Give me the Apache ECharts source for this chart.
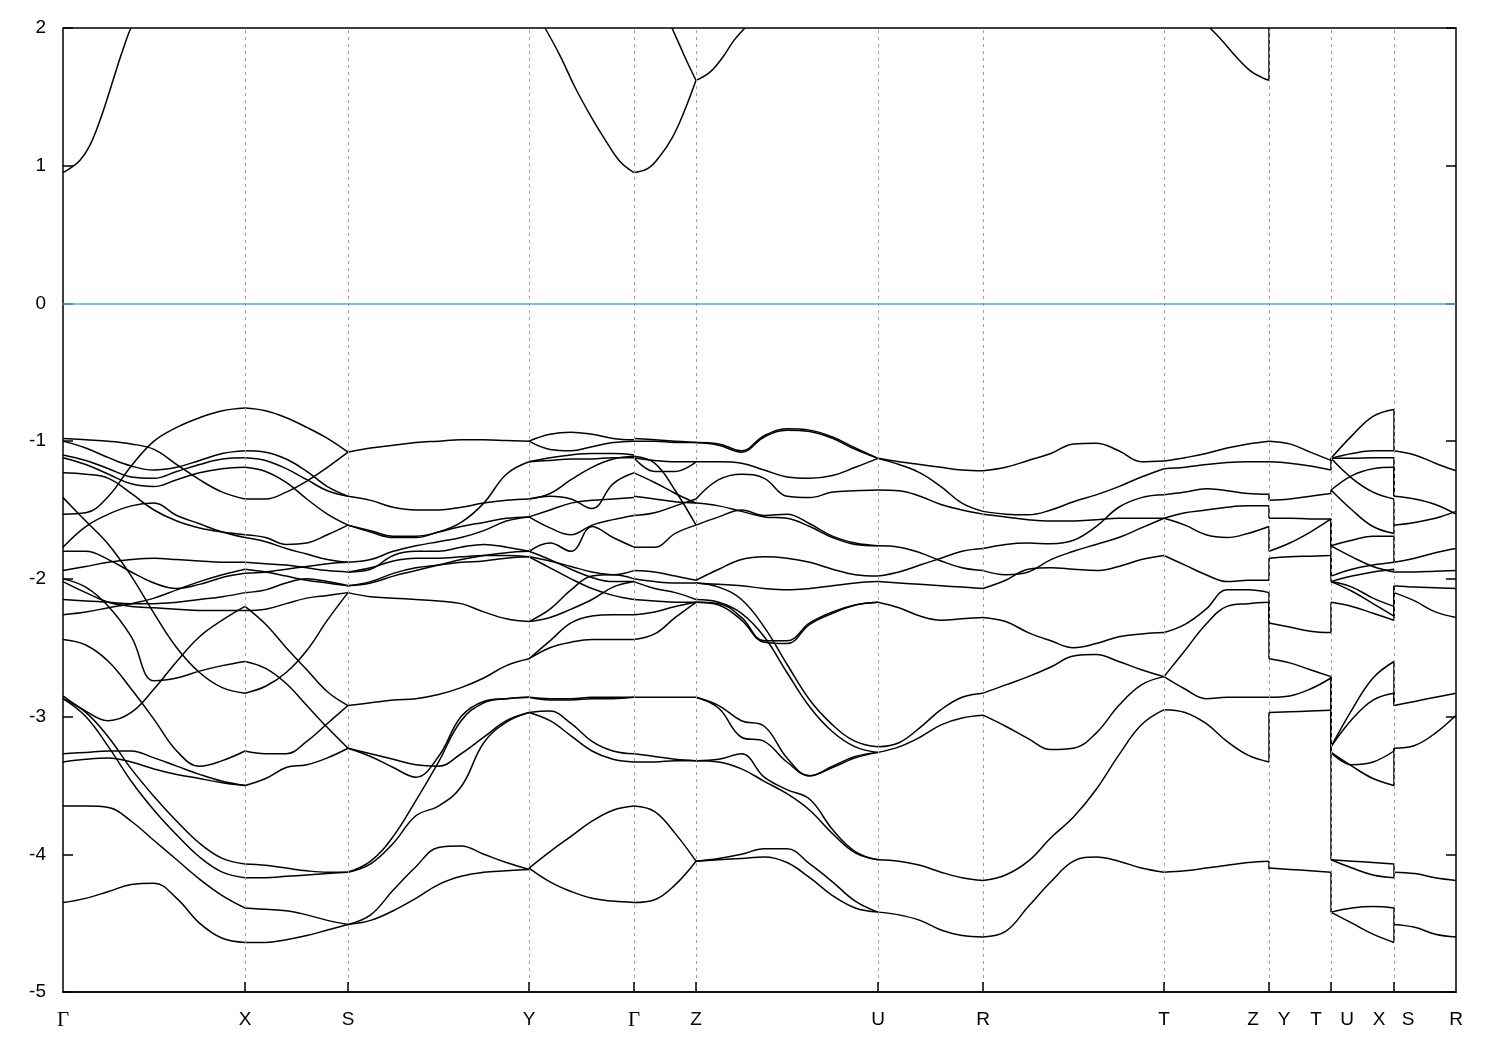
<!DOCTYPE html>
<html><head><meta charset="utf-8">
<script src="https://cdn.jsdelivr.net/npm/echarts@6/dist/echarts.min.js"></script>
<style>html,body{margin:0;padding:0;background:#fff}#chart{width:1500px;height:1050px}</style>
</head><body><div id="chart"></div>
<script>
// path distance of the high-symmetry points (arbitrary k units)
const kPoints = [0, 182, 285, 466, 571, 633, 815, 920, 1101, 1206, 1268, 1331, 1393];
// tick label texts and where they sit along the path
const tickNames = ['Γ','X','S','Y','Γ','Z','U','R','T','Z','Y','T','U','X','S','R'];
const tickLabelK = [0, 182, 285, 466, 571, 633, 815, 920, 1101, 1190, 1221, 1253, 1284, 1316, 1345, 1393];

// Valence bands, energies (eV) sampled evenly along each path segment
const segGX = [
 [-1.53,-1.52,-1.40,-1.18,-1.00,-0.90,-0.83,-0.78,-0.76],
 [-0.98,-0.99,-1.00,-1.02,-1.06,-1.17,-1.28,-1.37,-1.42],
 [-1.00,-1.05,-1.12,-1.18,-1.21,-1.19,-1.14,-1.09,-1.07],
 [-1.10,-1.14,-1.20,-1.26,-1.27,-1.22,-1.17,-1.13,-1.12],
 [-1.12,-1.17,-1.24,-1.31,-1.33,-1.28,-1.23,-1.20,-1.19],
 [-1.23,-1.24,-1.27,-1.38,-1.50,-1.58,-1.63,-1.66,-1.68],
 [-1.41,-1.58,-1.75,-1.98,-2.25,-2.50,-2.68,-2.79,-2.83],
 [-1.77,-1.62,-1.53,-1.47,-1.45,-1.54,-1.60,-1.66,-1.70],
 [-1.80,-1.80,-1.86,-1.95,-2.03,-2.07,-2.04,-1.99,-1.96],
 [-1.94,-1.91,-1.88,-1.86,-1.85,-1.86,-1.87,-1.88,-1.88],
 [-2.00,-2.06,-2.20,-2.42,-2.74,-2.72,-2.67,-2.63,-2.60],
 [-2.02,-2.10,-2.17,-2.20,-2.21,-2.22,-2.23,-2.23,-2.23],
 [-2.15,-2.16,-2.17,-2.18,-2.18,-2.17,-2.15,-2.13,-2.10],
 [-2.26,-2.24,-2.21,-2.18,-2.14,-2.08,-2.02,-1.97,-1.93],
 [-2.44,-2.48,-2.60,-2.80,-3.02,-3.25,-3.36,-3.32,-3.25],
 [-2.85,-2.96,-3.03,-2.97,-2.80,-2.60,-2.42,-2.30,-2.20],
 [-2.87,-2.97,-3.15,-3.38,-3.58,-3.76,-3.92,-4.03,-4.07],
 [-2.87,-3.00,-3.22,-3.47,-3.68,-3.86,-4.02,-4.13,-4.17],
 [-3.27,-3.26,-3.25,-3.25,-3.30,-3.36,-3.42,-3.47,-3.50],
 [-3.33,-3.31,-3.30,-3.33,-3.38,-3.42,-3.45,-3.48,-3.50],
 [-3.65,-3.65,-3.66,-3.76,-3.90,-4.04,-4.18,-4.30,-4.39],
 [-4.35,-4.32,-4.27,-4.22,-4.21,-4.32,-4.50,-4.61,-4.64]
];
const segXS = [
 [-0.76,-0.78,-0.83,-0.90,-0.98,-1.08],
 [-1.42,-1.42,-1.37,-1.29,-1.19,-1.08],
 [-1.07,-1.08,-1.13,-1.22,-1.33,-1.40],
 [-1.12,-1.14,-1.20,-1.28,-1.36,-1.40],
 [-1.19,-1.22,-1.30,-1.42,-1.53,-1.61],
 [-1.68,-1.70,-1.75,-1.74,-1.68,-1.61],
 [-1.70,-1.73,-1.78,-1.82,-1.86,-1.88],
 [-1.96,-1.95,-1.93,-1.91,-1.89,-1.88],
 [-1.88,-1.89,-1.90,-1.92,-1.94,-1.95],
 [-2.10,-2.08,-2.03,-2.00,-2.02,-2.05],
 [-1.93,-1.95,-1.98,-2.01,-2.03,-2.05],
 [-2.23,-2.22,-2.18,-2.14,-2.12,-2.10],
 [-2.20,-2.33,-2.50,-2.66,-2.82,-2.92],
 [-2.83,-2.78,-2.68,-2.52,-2.30,-2.10],
 [-2.60,-2.65,-2.76,-2.92,-3.08,-3.23],
 [-3.25,-3.27,-3.27,-3.18,-3.05,-2.92],
 [-3.50,-3.45,-3.37,-3.35,-3.30,-3.23],
 [-4.07,-4.08,-4.10,-4.12,-4.13,-4.13],
 [-4.17,-4.17,-4.16,-4.15,-4.14,-4.13],
 [-4.39,-4.40,-4.41,-4.44,-4.48,-4.51],
 [-4.64,-4.64,-4.62,-4.59,-4.55,-4.51]
];
const segSY = [
 [-1.08,-1.05,-1.03,-1.01,-1.00,-0.99,-0.99,-0.995,-1.00],
 [-1.40,-1.43,-1.48,-1.50,-1.50,-1.48,-1.45,-1.43,-1.42],
 [-1.61,-1.65,-1.69,-1.69,-1.66,-1.59,-1.45,-1.24,-1.15],
 [-1.61,-1.66,-1.70,-1.70,-1.66,-1.62,-1.59,-1.56,-1.55],
 [-1.88,-1.86,-1.80,-1.76,-1.73,-1.70,-1.65,-1.58,-1.55],
 [-1.95,-1.93,-1.83,-1.80,-1.80,-1.77,-1.75,-1.77,-1.80],
 [-1.95,-1.92,-1.87,-1.85,-1.85,-1.84,-1.83,-1.83,-1.84],
 [-2.05,-2.02,-1.96,-1.92,-1.90,-1.88,-1.87,-1.85,-1.84],
 [-2.05,-2.03,-1.98,-1.94,-1.90,-1.86,-1.83,-1.81,-1.80],
 [-2.10,-2.13,-2.14,-2.15,-2.16,-2.18,-2.24,-2.29,-2.31],
 [-2.92,-2.90,-2.88,-2.87,-2.84,-2.79,-2.72,-2.63,-2.58],
 [-3.23,-3.29,-3.37,-3.44,-3.29,-3.00,-2.89,-2.87,-2.86],
 [-3.23,-3.27,-3.31,-3.35,-3.36,-3.27,-3.15,-3.03,-2.97],
 [-4.13,-4.05,-3.87,-3.61,-3.33,-3.03,-2.90,-2.87,-2.86],
 [-4.13,-4.07,-3.92,-3.72,-3.65,-3.51,-3.19,-3.04,-2.97],
 [-4.51,-4.48,-4.41,-4.32,-4.22,-4.16,-4.13,-4.12,-4.11],
 [-4.51,-4.44,-4.26,-4.09,-3.95,-3.94,-4.00,-4.06,-4.11]
];
const segYG = [
 [-1.00,-0.95,-0.935,-0.95,-0.98,-0.99],
 [-1.00,-1.06,-1.07,-1.04,-1.01,-1.00],
 [-1.15,-1.12,-1.10,-1.09,-1.09,-1.10],
 [-1.15,-1.14,-1.13,-1.13,-1.12,-1.12],
 [-1.42,-1.40,-1.42,-1.49,-1.31,-1.23],
 [-1.42,-1.38,-1.28,-1.19,-1.13,-1.11],
 [-1.55,-1.63,-1.68,-1.61,-1.57,-1.54],
 [-1.55,-1.50,-1.45,-1.43,-1.42,-1.41],
 [-1.80,-1.74,-1.80,-1.62,-1.70,-1.77],
 [-1.84,-1.87,-1.91,-1.95,-1.97,-1.94],
 [-1.80,-1.86,-1.93,-1.99,-2.02,-2.02],
 [-1.84,-1.92,-2.00,-2.07,-2.12,-2.15],
 [-2.31,-2.22,-2.08,-1.98,-1.97,-2.00],
 [-2.31,-2.28,-2.22,-2.15,-2.06,-2.02],
 [-2.58,-2.50,-2.46,-2.44,-2.44,-2.44],
 [-2.58,-2.45,-2.32,-2.27,-2.26,-2.26],
 [-2.86,-2.87,-2.87,-2.86,-2.86,-2.86],
 [-2.86,-2.88,-2.88,-2.87,-2.87,-2.86],
 [-2.97,-2.96,-3.05,-3.18,-3.25,-3.27],
 [-2.97,-3.03,-3.14,-3.25,-3.31,-3.33],
 [-4.10,-3.98,-3.87,-3.76,-3.68,-3.65],
 [-4.10,-4.20,-4.27,-4.32,-4.34,-4.35]
];
const segGZ = [
 [-0.98,-0.99,-1.00,-1.01],
 [-1.00,-1.00,-1.01,-1.01],
 [-1.11,-1.16,-1.36,-1.61],
 [-1.12,-1.14,-1.15,-1.15],
 [-1.12,-1.22,-1.22,-1.15],
 [-1.23,-1.30,-1.38,-1.45],
 [-1.40,-1.42,-1.44,-1.45],
 [-1.54,-1.52,-1.47,-1.42],
 [-1.77,-1.77,-1.67,-1.61],
 [-1.94,-1.95,-1.98,-2.01],
 [-2.00,-2.02,-2.03,-2.03],
 [-2.02,-2.07,-2.10,-2.15],
 [-2.15,-2.16,-2.17,-2.17],
 [-2.26,-2.24,-2.20,-2.17],
 [-2.44,-2.40,-2.28,-2.17],
 [-2.86,-2.86,-2.86,-2.86],
 [-3.27,-3.29,-3.31,-3.32],
 [-3.33,-3.33,-3.32,-3.32],
 [-3.65,-3.69,-3.85,-4.05],
 [-4.35,-4.33,-4.22,-4.05]
];
const segZU = [
 [-1.01,-1.02,-1.07,-0.96,-0.91,-0.92,-0.97,-1.05,-1.125],
 [-1.01,-1.03,-1.08,-0.97,-0.92,-0.93,-0.98,-1.06,-1.125],
 [-1.15,-1.15,-1.16,-1.21,-1.26,-1.27,-1.25,-1.19,-1.125],
 [-1.42,-1.28,-1.24,-1.27,-1.40,-1.41,-1.37,-1.36,-1.355],
 [-1.61,-1.55,-1.50,-1.54,-1.53,-1.60,-1.69,-1.74,-1.76],
 [-1.45,-1.47,-1.51,-1.55,-1.56,-1.62,-1.70,-1.75,-1.76],
 [-2.01,-1.93,-1.86,-1.84,-1.85,-1.88,-1.93,-1.97,-1.98],
 [-2.03,-2.04,-2.05,-2.07,-2.08,-2.07,-2.05,-2.03,-2.02],
 [-2.17,-2.18,-2.28,-2.45,-2.45,-2.32,-2.24,-2.19,-2.17],
 [-2.17,-2.19,-2.30,-2.46,-2.47,-2.33,-2.25,-2.19,-2.17],
 [-2.03,-2.06,-2.15,-2.35,-2.62,-2.88,-3.06,-3.18,-3.22],
 [-2.15,-2.17,-2.25,-2.42,-2.68,-2.93,-3.11,-3.22,-3.26],
 [-2.86,-2.92,-3.03,-3.07,-3.30,-3.43,-3.37,-3.30,-3.26],
 [-2.86,-2.94,-3.15,-3.18,-3.33,-3.43,-3.36,-3.29,-3.26],
 [-3.32,-3.31,-3.27,-3.44,-3.53,-3.60,-3.82,-3.98,-4.04],
 [-3.32,-3.33,-3.38,-3.47,-3.56,-3.68,-3.85,-3.99,-4.04],
 [-4.05,-4.03,-4.00,-3.96,-3.96,-4.07,-4.20,-4.34,-4.42],
 [-4.05,-4.04,-4.03,-4.02,-4.06,-4.17,-4.30,-4.39,-4.42]
];
const segUR = [
 [-1.125,-1.15,-1.17,-1.19,-1.21,-1.215],
 [-1.125,-1.17,-1.23,-1.33,-1.45,-1.51],
 [-1.355,-1.36,-1.40,-1.46,-1.50,-1.53],
 [-1.76,-1.77,-1.81,-1.87,-1.92,-1.94],
 [-1.98,-1.95,-1.90,-1.85,-1.80,-1.78],
 [-2.02,-2.03,-2.04,-2.05,-2.06,-2.07],
 [-2.17,-2.21,-2.27,-2.30,-2.29,-2.28],
 [-3.22,-3.19,-3.08,-2.95,-2.86,-2.83],
 [-3.26,-3.22,-3.15,-3.06,-3.01,-2.99],
 [-4.04,-4.05,-4.08,-4.13,-4.17,-4.19],
 [-4.42,-4.44,-4.48,-4.55,-4.59,-4.60]
];
const segRT = [
 [-1.215,-1.19,-1.14,-1.09,-1.02,-1.015,-1.07,-1.15,-1.145],
 [-1.51,-1.53,-1.535,-1.50,-1.44,-1.39,-1.33,-1.26,-1.20],
 [-1.53,-1.55,-1.57,-1.58,-1.58,-1.57,-1.56,-1.56,-1.56],
 [-1.78,-1.75,-1.74,-1.745,-1.72,-1.62,-1.48,-1.41,-1.39],
 [-1.94,-1.97,-1.95,-1.86,-1.80,-1.75,-1.70,-1.63,-1.56],
 [-2.07,-2.01,-1.93,-1.92,-1.93,-1.94,-1.91,-1.86,-1.83],
 [-2.28,-2.31,-2.39,-2.45,-2.50,-2.47,-2.42,-2.40,-2.39],
 [-2.83,-2.77,-2.71,-2.64,-2.56,-2.55,-2.60,-2.66,-2.71],
 [-2.99,-3.07,-3.16,-3.24,-3.23,-3.12,-2.92,-2.77,-2.71],
 [-4.19,-4.15,-4.05,-3.88,-3.73,-3.53,-3.28,-3.06,-2.95],
 [-4.60,-4.56,-4.38,-4.20,-4.05,-4.02,-4.05,-4.10,-4.13]
];
const segTZ = [
 [-1.145,-1.12,-1.09,-1.05,-1.02,-1.00],
 [-1.20,-1.19,-1.17,-1.155,-1.15,-1.15],
 [-1.39,-1.37,-1.345,-1.36,-1.38,-1.385],
 [-1.56,-1.61,-1.68,-1.70,-1.67,-1.62],
 [-1.56,-1.52,-1.50,-1.48,-1.47,-1.47],
 [-1.83,-1.90,-1.97,-2.02,-2.01,-2.01],
 [-2.39,-2.33,-2.22,-2.08,-2.08,-2.10],
 [-2.71,-2.52,-2.33,-2.20,-2.18,-2.17],
 [-2.71,-2.80,-2.87,-2.86,-2.86,-2.86],
 [-2.95,-2.97,-3.05,-3.18,-3.28,-3.33],
 [-4.13,-4.12,-4.10,-4.08,-4.06,-4.05]
];
const segYT = [
 [-1.00,-1.02,-1.08,-1.14],
 [-1.15,-1.16,-1.18,-1.21],
 [-1.43,-1.42,-1.40,-1.38],
 [-1.56,-1.56,-1.565,-1.565],
 [-1.80,-1.74,-1.66,-1.565],
 [-1.85,-1.84,-1.835,-1.83],
 [-2.32,-2.35,-2.38,-2.39],
 [-2.58,-2.61,-2.66,-2.71],
 [-2.86,-2.85,-2.80,-2.72],
 [-2.97,-2.965,-2.96,-2.955],
 [-4.10,-4.11,-4.12,-4.13]
];
const segUX = [
 [-1.125,-0.96,-0.82,-0.77],
 [-1.125,-1.09,-1.07,-1.07],
 [-1.125,-1.125,-1.12,-1.12],
 [-1.125,-1.27,-1.37,-1.42],
 [-1.355,-1.25,-1.20,-1.19],
 [-1.355,-1.50,-1.62,-1.67],
 [-1.76,-1.72,-1.69,-1.69],
 [-1.76,-1.84,-1.91,-1.95],
 [-1.98,-1.93,-1.90,-1.88],
 [-2.02,-1.98,-1.95,-1.93],
 [-2.02,-2.06,-2.14,-2.20],
 [-2.02,-2.09,-2.18,-2.27],
 [-2.17,-2.20,-2.25,-2.30],
 [-3.22,-2.95,-2.72,-2.60],
 [-3.22,-3.02,-2.88,-2.83],
 [-3.26,-3.35,-3.33,-3.25],
 [-3.26,-3.36,-3.45,-3.50],
 [-4.04,-4.05,-4.06,-4.07],
 [-4.04,-4.10,-4.15,-4.17],
 [-4.42,-4.39,-4.38,-4.39],
 [-4.42,-4.50,-4.58,-4.64]
];
const segSR = [
 [-1.07,-1.10,-1.16,-1.215],
 [-1.40,-1.42,-1.46,-1.53],
 [-1.61,-1.59,-1.56,-1.51],
 [-1.88,-1.85,-1.81,-1.78],
 [-1.95,-1.95,-1.945,-1.94],
 [-2.05,-2.06,-2.065,-2.07],
 [-2.10,-2.16,-2.24,-2.28],
 [-2.92,-2.89,-2.86,-2.83],
 [-3.23,-3.21,-3.12,-2.99],
 [-4.13,-4.14,-4.17,-4.19],
 [-4.51,-4.53,-4.58,-4.60]
];

// Conduction band pieces: [k, E]
const cbGX = [[0,0.95],[7,0.98],[17,1.04],[27,1.15],[37,1.33],[47,1.55],[57,1.78],[65,1.95],[68,2.0]];
const cbYG = [[482,2.0],[497,1.80],[512,1.57],[527,1.37],[542,1.19],[557,1.03],[571,0.95]];
const cbGZ = [[571,0.95],[585,0.98],[597,1.07],[609,1.20],[621,1.39],[633,1.62]];
const cbGZ2 = [[609,2.0],[617,1.87],[625,1.74],[633,1.62]];
const cbZU = [[633,1.62],[647,1.68],[659,1.78],[671,1.91],[682,2.0]];
const cbTZ = [[1147,2.0],[1159,1.91],[1172,1.80],[1187,1.69],[1199,1.64],[1206,1.62]];

// Vertical jumps at the path discontinuities: [E before, E after]
const jumpZY = [[-1.385,-1.43],[-1.47,-1.56],[-1.62,-1.80],[-2.01,-1.85],[-2.10,-2.32],[-2.17,-2.58],[-3.33,-2.97],[-4.05,-4.11],[1.62,2.0]];
const jumpTU = [[-1.14,-1.125],[-1.21,-1.125],[-1.38,-1.355],[-1.565,-1.76],[-1.565,-1.98],[-1.83,-2.02],[-2.39,-2.17],[-2.71,-3.22],[-2.71,-3.26],[-2.955,-4.04],[-4.13,-4.42]];
const jumpXS = [[-0.77,-1.07],[-1.07,-1.07],[-1.12,-1.40],[-1.19,-1.40],[-1.42,-1.61],[-1.67,-1.61],[-1.69,-1.88],[-1.88,-1.88],[-1.93,-1.95],[-1.95,-1.95],[-2.20,-2.05],[-2.27,-2.05],[-2.30,-2.10],[-2.60,-2.92],[-2.83,-2.92],[-3.25,-3.23],[-3.50,-3.23],[-4.07,-4.13],[-4.17,-4.13],[-4.39,-4.51],[-4.64,-4.51]];

const segments = [
  {a:0,b:1,curves:segGX},{a:1,b:2,curves:segXS},{a:2,b:3,curves:segSY},{a:3,b:4,curves:segYG},
  {a:4,b:5,curves:segGZ},{a:5,b:6,curves:segZU},{a:6,b:7,curves:segUR},{a:7,b:8,curves:segRT},
  {a:8,b:9,curves:segTZ},{a:9,b:10,curves:segYT},{a:10,b:11,curves:segUX},{a:11,b:12,curves:segSR}
];
const jumps = [{k:kPoints[9],pairs:jumpZY},{k:kPoints[10],pairs:jumpTU},{k:kPoints[11],pairs:jumpXS}];

const yMin = -5, yMax = 2;
const tickLenE = (yMax - yMin) * 10 / 964; // 10 px inward tick, in axis units

const bandLine = {color:'#000', width:1.5};
const series = [];
function addLine(data, smooth, z){
  series.push({type:'line', data:data, smooth:smooth, symbol:'none', showSymbol:false,
    lineStyle:bandLine, itemStyle:{color:'#000'}, silent:true, z:z||3});
}
// guides: dashed verticals and zero line
series.push({type:'line', data:[], silent:true, symbol:'none',
  markLine:{silent:true, symbol:'none', label:{show:false}, animation:false,
    data: kPoints.slice(1,-1).map(k=>({xAxis:k, lineStyle:{type:[3,4], color:'#a0a0a0', width:1}}))
      .concat([{yAxis:0, lineStyle:{type:'solid', color:'#4eaae6', width:1.5}}])}, z:1});
segments.forEach(s=>{
  const k0=kPoints[s.a], k1=kPoints[s.b];
  s.curves.forEach(c=>{
    const n=c.length;
    addLine(c.map((e,i)=>[k0+(k1-k0)*i/(n-1), e]), 0.4);
  });
});
[cbGX,cbYG,cbGZ,cbGZ2,cbZU,cbTZ].forEach(c=>addLine(c, 0.4));
jumps.forEach(j=>j.pairs.forEach(p=>addLine([[j.k,p[0]],[j.k,p[1]]], false)));
// bottom inward tick marks at the high-symmetry points
kPoints.slice(1,-1).forEach(k=>addLine([[k,yMin],[k,yMin+tickLenE]], false, 6));

const font = 'Liberation Sans, Arial, sans-serif';
const chart = echarts.init(document.getElementById('chart'), null, {renderer:'canvas'});
chart.setOption({
  animation:false,
  backgroundColor:'#fff',
  grid:{left:63, right:44, top:28, bottom:58, show:true, borderColor:'#000', borderWidth:1.5, backgroundColor:'transparent'},
  xAxis:{type:'value', min:0, max:kPoints[kPoints.length-1], position:'bottom',
    axisLine:{show:true, onZero:false, lineStyle:{color:'#000', width:1.5}},
    splitLine:{show:false},
    axisTick:{show:false},
    axisLabel:{show:true, customValues:tickLabelK, margin:18, color:'#000', fontSize:19, fontFamily:font,
      formatter:function(v){const i=tickLabelK.indexOf(Math.round(v)); const t=i>=0?tickNames[i]:''; return t==='Γ'?'{g|Γ}':t;},
      rich:{g:{fontFamily:'Liberation Serif, Times New Roman, serif', fontSize:21, color:'#000'}}}
  },
  yAxis:[
    {type:'value', min:yMin, max:yMax, interval:1, axisLine:{show:false, onZero:false}, splitLine:{show:false},
     axisTick:{show:true, inside:true, length:10, lineStyle:{color:'#000', width:1.5}},
     axisLabel:{color:'#000', fontSize:19, fontFamily:font, margin:17}},
    {type:'value', position:'right', min:yMin, max:yMax, interval:1, axisLine:{show:false, onZero:false}, splitLine:{show:false},
     axisTick:{show:true, inside:true, length:10, lineStyle:{color:'#000', width:1.5}},
     axisLabel:{show:false}}
  ],
  series:series
});
</script>
</body></html>
